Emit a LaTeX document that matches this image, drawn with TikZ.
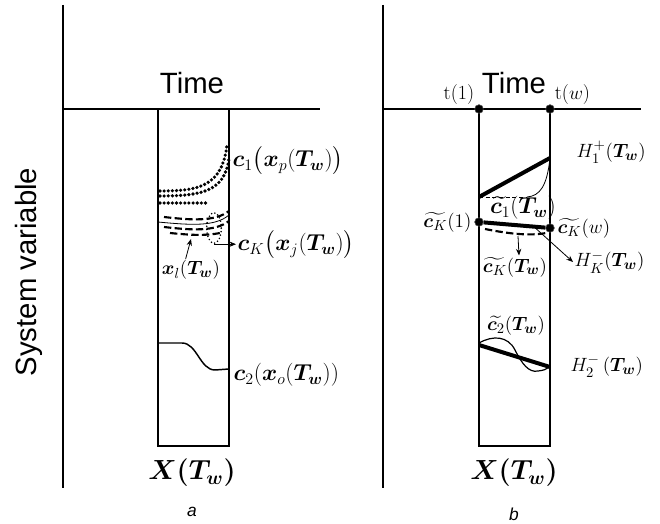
\documentclass[tikz,border=0pt]{standalone}
\usepackage{amsmath,amssymb}
\usepackage{bm}
\usepackage{fontspec}
\newfontfamily\arialfont{Liberation Sans}
\usepackage{tikz}
\usetikzlibrary{arrows.meta,positioning,shapes.geometric}

\begin{document}
\begin{tikzpicture}[x=0.75pt, y=-0.75pt,
  axis/.style={line width=2pt},
  frame/.style={line width=1.5pt},
  heavy/.style={line width=3pt},
  curve/.style={line width=1.1pt},
  thincurve/.style={line width=0.6pt},
  dotrow/.style={line width=2.7pt, line cap=round, dash pattern=on 0pt off 3.1pt},
  dashrow/.style={line width=1.6pt, dash pattern=on 5.5pt off 2.5pt},
  axlabel/.style={font=\arialfont\fontsize{22}{26}\selectfont},
  mlabel/.style={font=\fontsize{15}{18}\selectfont, inner sep=1pt},
  biglabel/.style={font=\fontsize{17.5}{20}\selectfont, inner sep=1pt},
  xlabel/.style={font=\fontsize{20}{24}\selectfont\boldmath},
  sublabel/.style={font=\arialfont\itshape\fontsize{13}{15}\selectfont},
  dot/.style={circle, fill=black, draw=black!70, inner sep=0pt, minimum size=6.5pt},
  arrow/.style={-{Stealth[length=5pt,width=4pt]}, line width=0.6pt},
]
\useasboundingbox (0,0) rectangle (660,524);

% panel a
\draw[axis] (63,5) -- (63,488);
\draw[axis] (63,109) -- (320,109);
\draw[frame] (158,109) rectangle (229,446);
\node[axlabel] (timeA) at (192,83) {Time};
\node[axlabel, rotate=90] (sysvar) at (29,272) {System variable};

\draw[dotrow] (160,191) .. controls (200,191) and (222,186) .. (227,145);
\draw[dotrow] (160,196) .. controls (205,196) and (225,190) .. (229,158);
\draw[dotrow] (160,203) -- (207,203);

\draw[thincurve] (158,222) .. controls (190,225) and (215,227) .. (229,215);
\draw[dashrow] (164,217) .. controls (190,220) and (215,222) .. (229,211);
\draw[dashrow] (164,227) .. controls (190,230) and (215,232) .. (229,221);
\draw[dashrow] (170,233) .. controls (190,235) and (205,236) .. (220,233);
\node[ellipse, draw, line width=1.3pt, line cap=round, dash pattern=on 0pt off 2.6pt,
      minimum width=11pt, minimum height=23pt, inner sep=0pt] (ellK) at (214,228) {};

\draw[curve] (158,343) -- (182,343) .. controls (197,343) and (200,370) .. (215,370) -- (229,369);

\node[biglabel, anchor=west] (c1A) at (231,161)
  {$\bm{c}_1\bigl(\bm{x}_p(\bm{T}_{\bm{w}})\bigr)$};
\node[biglabel, anchor=west] (cKA) at (236,245)
  {$\bm{c}_K\bigl(\bm{x}_j(\bm{T}_{\bm{w}})\bigr)$};
\node[mlabel] (xlA) at (191,270) {$\bm{x}_l(\bm{T}_{\bm{w}})$};
\node[biglabel, anchor=west] (c2A) at (232,375)
  {$\bm{c}_2(\bm{x}_o(\bm{T}_{\bm{w}}))$};
\node[xlabel] (XA) at (192,473) {$X(T_w)$};
\node[sublabel] (subA) at (192,512) {a};
\coordinate (xlpt) at (191,239);
\draw[arrow] ([xshift=-4pt]xlA.north) -- (xlpt);
\draw[arrow] (ellK.south) -- (ellK.south -| cKA.west);

% panel b
\draw[axis] (383,5) -- (383,488);
\draw[axis] (383,109) -- (641,109);
\draw[frame] (479,109) rectangle (550,446);
\node[axlabel] (timeB) at (514,83) {Time};
\node[dot] (t1) at (479,109) {};
\node[dot] (tw) at (550,109) {};
\node[mlabel, anchor=south east] (t1lab) at (t1.north west) {t(1)};
\node[mlabel, anchor=south west] (twlab) at (tw.north east) {t($w$)};

\coordinate (h1a) at (479,197);
\coordinate (h1b) at (550,158);
\draw[heavy] (h1a) -- (h1b);
\draw[thincurve, densely dashed] (h1a) -- (527,197);
\draw[thincurve] (527,197) .. controls (540,196) and (547,186) .. (h1b);

\node[dot] (ck1) at (479,222) {};
\node[dot] (ckw) at (550,228) {};
\draw[heavy] (ck1) -- (ckw);
\draw[dashrow] (485,229) .. controls (510,234) and (530,236) .. (546,233);

\draw[heavy] (479,345) -- (550,367);
\draw[thincurve, line width=0.9pt] (479,343) .. controls (493,335) and (508,336) .. (515,350)
  .. controls (522,364) and (529,373) .. (538,371) .. controls (545,370) .. (550,366);

\node[mlabel, anchor=west] (H1B) at (575,152) {$H_1^+(\bm{T}_{\bm{w}})$};
\node[biglabel] (c1B) at (523,208) {$\widetilde{\bm{c}_1}(\bm{T}_{\bm{w}})$};
\node[mlabel, anchor=east] (ck1lab) at ([xshift=-1pt]ck1.west) {$\widetilde{\bm{c}_K}(1)$};
\node[mlabel, anchor=west] (ckwlab) at ([xshift=1pt]ckw.east) {$\widetilde{\bm{c}_K}(w)$};
\node[mlabel] (cKB) at (515,267) {$\widetilde{\bm{c}_K}(\bm{T}_{\bm{w}})$};
\node[mlabel, anchor=west] (HKB) at (573,262) {$H_K^-(\bm{T}_{\bm{w}})$};
\node[mlabel] (c2B) at (516,326) {$\widetilde{\bm{c}_2}(\bm{T}_{\bm{w}})$};
\node[mlabel, anchor=west] (H2B) at (569,366) {$H_2^-\,(\bm{T}_{\bm{w}})$};
\node[xlabel] (XB) at (514,473) {$X(T_w)$};
\node[sublabel] (subB) at (514,514) {b};

\coordinate (dashK) at (518,236);
\coordinate (heavyK) at (532,225);
\draw[arrow] (dashK) -- ([xshift=3pt]cKB.north);
\draw[arrow] (heavyK) -- (HKB.west);
\end{tikzpicture}
\end{document}
